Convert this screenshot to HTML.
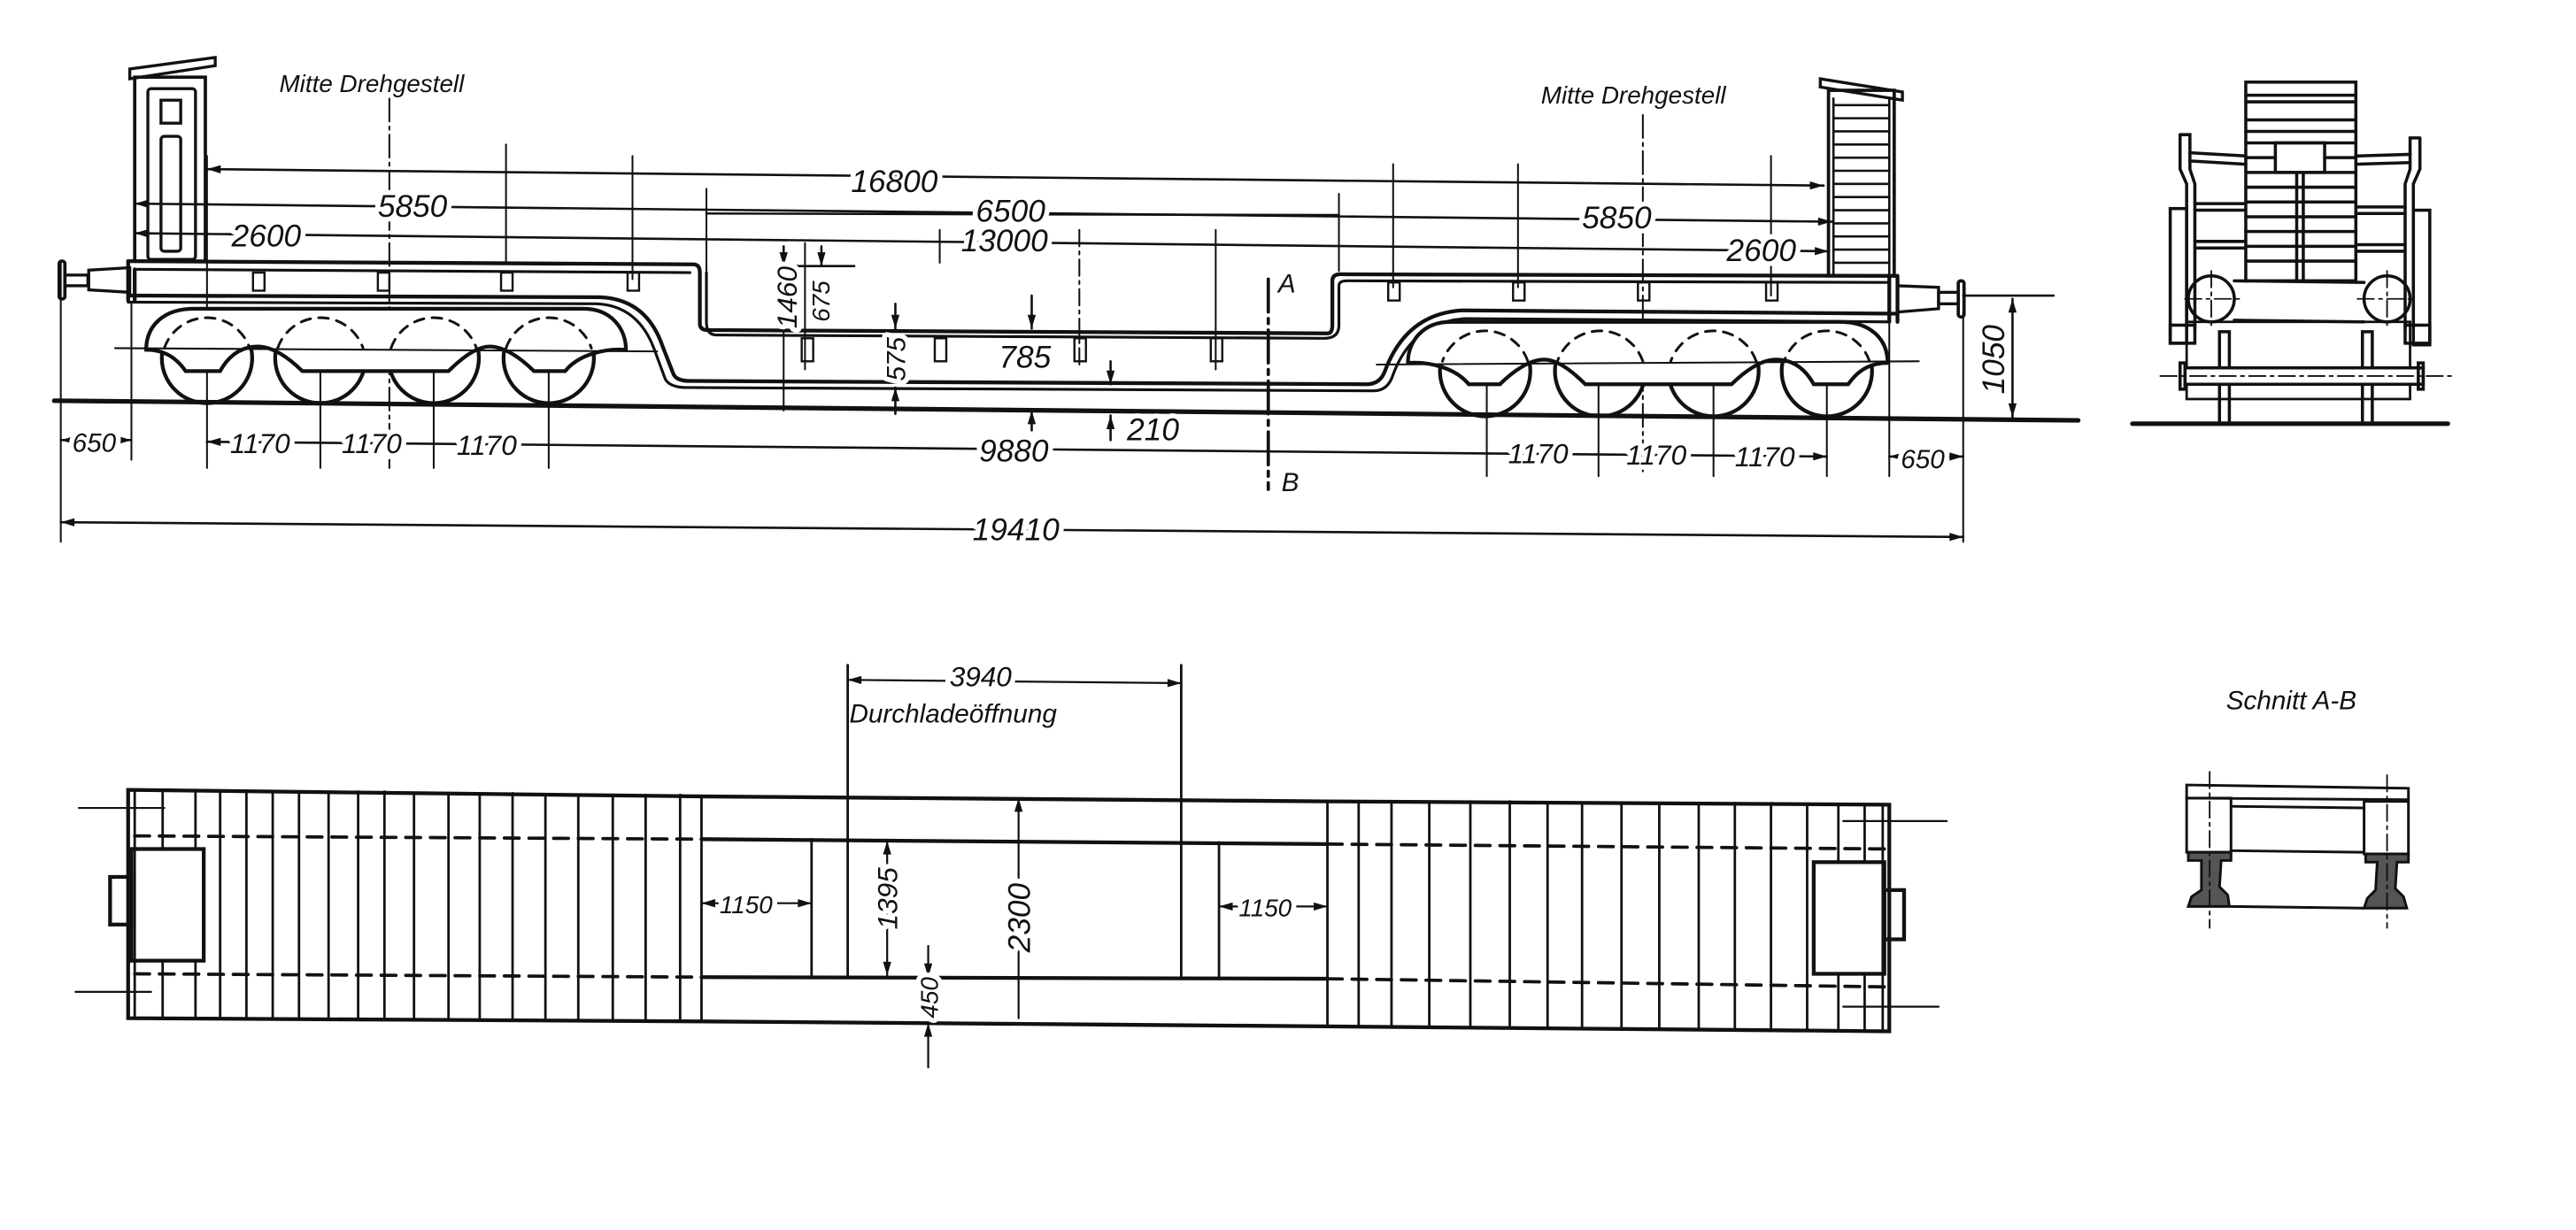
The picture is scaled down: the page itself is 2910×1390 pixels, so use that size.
<!DOCTYPE html>
<html><head><meta charset="utf-8"><style>
html,body{margin:0;padding:0;background:#fff;}
svg{display:block;}
text{font-family:"Liberation Sans",sans-serif;font-style:italic;fill:#111;}
.t{font-size:19px;stroke:#fff;stroke-width:6px;paint-order:stroke;stroke-linejoin:round;}
.s{font-size:15px;}
</style></head><body>
<svg width="2910" height="1390" viewBox="0 0 1568 749" preserveAspectRatio="none" xmlns="http://www.w3.org/2000/svg">
<defs>
<marker id="a" viewBox="0 0 10 6" refX="10" refY="3" markerWidth="10" markerHeight="5" orient="auto-start-reverse" markerUnits="userSpaceOnUse"><path d="M0,0 L10,3 L0,6 Z" fill="#111"/></marker>
</defs>
<rect width="1568" height="749" fill="#fff"/>
<g fill="none" stroke="#111" stroke-width="1.2" stroke-linecap="round">
<g stroke-width="1.1">
<line x1="37" y1="160" x2="37" y2="330"/>
<line x1="80" y1="185" x2="80" y2="280"/>
<line x1="126" y1="95" x2="126" y2="285"/>
<line x1="195" y1="200" x2="195" y2="285"/>
<line x1="237" y1="60" x2="237" y2="285" stroke-dasharray="14 3 2 3"/>
<line x1="264" y1="200" x2="264" y2="285"/>
<line x1="308" y1="88" x2="308" y2="160"/>
<line x1="334" y1="200" x2="334" y2="285"/>
<line x1="385" y1="95" x2="385" y2="170"/>
<line x1="430" y1="115" x2="430" y2="165"/>
<line x1="477" y1="150" x2="477" y2="250"/>
<line x1="490" y1="148" x2="490" y2="225"/>
<line x1="572" y1="140" x2="572" y2="160"/>
<line x1="657" y1="140" x2="657" y2="225" stroke-dasharray="10 3 2 3"/>
<line x1="740" y1="140" x2="740" y2="225"/>
<line x1="815" y1="118" x2="815" y2="165"/>
<line x1="848" y1="100" x2="848" y2="175"/>
<line x1="905" y1="200" x2="905" y2="290"/>
<line x1="924" y1="100" x2="924" y2="175"/>
<line x1="973" y1="200" x2="973" y2="290"/>
<line x1="1000" y1="70" x2="1000" y2="290" stroke-dasharray="14 3 2 3"/>
<line x1="1043" y1="200" x2="1043" y2="290"/>
<line x1="1078" y1="95" x2="1078" y2="180"/>
<line x1="1112" y1="200" x2="1112" y2="290"/>
<line x1="1150" y1="195" x2="1150" y2="290"/>
<line x1="1195" y1="190" x2="1195" y2="330"/>
</g>
<g stroke-width="1.4">
<line x1="126" y1="103" x2="1110" y2="113" marker-start="url(#a)" marker-end="url(#a)"/>
<line x1="82" y1="124" x2="1115" y2="135" marker-start="url(#a)" marker-end="url(#a)"/>
<line x1="82" y1="142" x2="1113" y2="153" marker-start="url(#a)" marker-end="url(#a)"/>
<line x1="430" y1="130" x2="815" y2="131"/>
<line x1="477" y1="162" x2="520" y2="162"/>
<line x1="37" y1="268" x2="80" y2="268" marker-start="url(#a)" marker-end="url(#a)"/>
<line x1="126" y1="269" x2="1112" y2="278" marker-start="url(#a)" marker-end="url(#a)"/>
<line x1="1150" y1="278" x2="1195" y2="278" marker-start="url(#a)" marker-end="url(#a)"/>
<line x1="37" y1="318" x2="1195" y2="327" marker-start="url(#a)" marker-end="url(#a)"/>
<line x1="1225" y1="182" x2="1225" y2="254" marker-start="url(#a)" marker-end="url(#a)"/>
<line x1="1195" y1="180" x2="1250" y2="180"/>
<line x1="477" y1="150" x2="477" y2="162" marker-end="url(#a)"/>
<line x1="500" y1="150" x2="500" y2="162" marker-end="url(#a)"/>
<line x1="545" y1="185" x2="545" y2="200" marker-end="url(#a)"/>
<line x1="545" y1="252" x2="545" y2="236" marker-end="url(#a)"/>
<line x1="628" y1="180" x2="628" y2="200" marker-end="url(#a)"/>
<line x1="628" y1="262" x2="628" y2="250" marker-end="url(#a)"/>
<line x1="676" y1="220" x2="676" y2="234" marker-end="url(#a)"/>
<line x1="676" y1="268" x2="676" y2="253" marker-end="url(#a)"/>
</g>
<line x1="772" y1="170" x2="772" y2="298" stroke-width="2" stroke-dasharray="20 4 3 4"/>
<line x1="33" y1="244" x2="1265" y2="256" stroke-width="2.8"/>
<rect x="82" y="47" width="43" height="112" stroke-width="2"/>
<path d="M79,42 L131,35 L131,40 L79,48 Z" stroke-width="1.8"/>
<rect x="90" y="54" width="29" height="104" rx="2" stroke-width="1.8"/>
<rect x="98" y="61" width="12" height="14" stroke-width="1.8"/>
<rect x="98" y="83" width="12" height="70" rx="2" stroke-width="1.8"/>
<rect x="1113" y="55" width="40" height="113" stroke-width="2"/>
<path d="M1108,48 L1158,56 L1158,61 L1108,53 Z" stroke-width="1.8"/>
<g stroke-width="1.4">
<line x1="1116" y1="64" x2="1150" y2="64"/><line x1="1116" y1="72" x2="1150" y2="72"/><line x1="1116" y1="80" x2="1150" y2="80"/><line x1="1116" y1="88" x2="1150" y2="88"/><line x1="1116" y1="96" x2="1150" y2="96"/><line x1="1116" y1="104" x2="1150" y2="104"/><line x1="1116" y1="112" x2="1150" y2="112"/><line x1="1116" y1="120" x2="1150" y2="120"/><line x1="1116" y1="128" x2="1150" y2="128"/><line x1="1116" y1="136" x2="1150" y2="136"/><line x1="1116" y1="144" x2="1150" y2="144"/><line x1="1116" y1="152" x2="1150" y2="152"/><line x1="1116" y1="160" x2="1150" y2="160"/>
<line x1="1116" y1="60" x2="1116" y2="168"/><line x1="1150" y1="60" x2="1150" y2="168"/>
</g>
<rect x="36" y="159" width="3.5" height="23" rx="1.5" stroke-width="2"/>
<rect x="39.5" y="167.5" width="14" height="6.5" stroke-width="1.8"/>
<path d="M54,164.5 L79,163 L79,178 L54,176.5 Z" stroke-width="1.8"/>
<path d="M1155,174 L1180,175 L1180,188 L1155,190 Z" stroke-width="1.8"/>
<rect x="1180" y="178" width="12" height="7" stroke-width="1.8"/>
<rect x="1192" y="171" width="3.5" height="22" rx="1.5" stroke-width="2"/>
<g stroke-width="2.3">
<path d="M78,159 L422,161 Q426,161 426,166 L426,197 Q426,201 431,201 L808,203 Q811,203 811,198 L811,171 Q811,167 816,167 L1155,168"/>
<path d="M82,164 L420,166 M430,166 L430,196 Q430,204 436,204 L806,206 Q815,206 815,198 L815,174 Q815,171 820,171 L1150,172" stroke-width="1.7"/>
<path d="M78,159 L78,183 M82,164 L82,183 M1150,168 L1150,196 M1155,168 L1155,196"/>
<path d="M78,180 L365,181 Q393,182 403,210 L410,228 Q412,232 420,232 L832,234 Q840,234 843,226 Q856,191 890,189 L1155,191"/>
<path d="M78,184 L363,185 Q388,186 398,212 L405,231 Q408,236 418,236 L836,238 Q845,238 848,228 Q860,196 892,194 L1150,196" stroke-width="1.7"/>
</g>
<g stroke-width="1.3">
<rect x="154" y="166" width="7" height="11"/><rect x="230" y="166" width="7" height="11"/><rect x="305" y="166" width="7" height="11"/><rect x="382" y="166" width="7" height="11"/>
<rect x="488" y="206" width="7" height="14"/><rect x="569" y="206" width="7" height="14"/><rect x="654" y="206" width="7" height="14"/><rect x="737" y="206" width="7" height="14"/>
<rect x="845" y="172" width="7" height="11"/><rect x="921" y="172" width="7" height="11"/><rect x="997" y="172" width="7" height="11"/><rect x="1075" y="172" width="7" height="11"/>
</g>
<g id="bog">
<g stroke-width="2.3">
<circle cx="126" cy="218" r="27.5"/><circle cx="195" cy="218" r="27.5"/><circle cx="264" cy="218" r="27.5"/><circle cx="334" cy="218" r="27.5"/>
</g>
<path d="M89,213 C89,198 100,188 118,188 L355,188 C372,188 381,200 381,213 C368,212 352,216 344,226 L325,226 C317,218 307,211 298,211 C290,211 281,218 273,226 L184,226 C176,218 166,211 157,211 C148,211 140,215 134,226 L113,226 C106,216 98,213 89,213 Z" fill="#fff" stroke-width="2.3"/>
<g stroke-width="1.6" stroke-dasharray="6 5">
<path d="M100,212 A27.5,27.5 0 0 1 152,212"/><path d="M169,212 A27.5,27.5 0 0 1 221,212"/><path d="M238,212 A27.5,27.5 0 0 1 290,212"/><path d="M308,212 A27.5,27.5 0 0 1 360,212"/>
</g>
<line x1="70" y1="212" x2="400" y2="214" stroke-width="1.1"/>
</g>
<use href="#bog" transform="translate(1238,8) scale(-1,1)"/>
<g stroke-width="1.9">
<rect x="1367" y="50" width="67" height="121"/>
<line x1="1367" y1="58" x2="1434" y2="58"/><line x1="1367" y1="62" x2="1434" y2="62"/><line x1="1367" y1="73" x2="1434" y2="73"/><line x1="1367" y1="80" x2="1434" y2="80"/>
<rect x="1385" y="87" width="30" height="18"/>
<line x1="1367" y1="87" x2="1434" y2="87"/><line x1="1367" y1="96" x2="1385" y2="96"/><line x1="1415" y1="96" x2="1434" y2="96"/>
<line x1="1367" y1="105" x2="1434" y2="105"/>
<line x1="1398" y1="105" x2="1398" y2="171"/><line x1="1402" y1="105" x2="1402" y2="171"/>
<line x1="1367" y1="114" x2="1434" y2="114"/><line x1="1367" y1="123" x2="1434" y2="123"/><line x1="1367" y1="132" x2="1434" y2="132"/><line x1="1367" y1="141" x2="1434" y2="141"/><line x1="1367" y1="150" x2="1434" y2="150"/><line x1="1367" y1="159" x2="1434" y2="159"/>
<path d="M1327,82 L1333,82 L1333,103 L1336,112 L1336,200 M1327,82 L1327,103 L1331,112 L1331,200"/>
<path d="M1473,84 L1467,84 L1467,103 L1464,112 L1464,200 M1473,84 L1473,103 L1469,112 L1469,200"/>
<line x1="1333" y1="93" x2="1367" y2="95"/><line x1="1333" y1="98" x2="1367" y2="100"/>
<line x1="1434" y1="95" x2="1467" y2="94"/><line x1="1434" y1="100" x2="1467" y2="99"/>
<line x1="1336" y1="124" x2="1367" y2="124"/><line x1="1336" y1="128" x2="1367" y2="128"/>
<line x1="1434" y1="126" x2="1464" y2="126"/><line x1="1434" y1="130" x2="1464" y2="130"/>
<line x1="1336" y1="147" x2="1367" y2="147"/><line x1="1336" y1="151" x2="1367" y2="151"/>
<line x1="1434" y1="149" x2="1464" y2="149"/><line x1="1434" y1="153" x2="1464" y2="153"/>
<rect x="1321" y="127" width="10" height="82"/><rect x="1469" y="128" width="10" height="82"/>
<rect x="1321" y="198" width="15" height="11"/><rect x="1464" y="198" width="15" height="11"/>
<circle cx="1346" cy="182" r="14"/><circle cx="1453" cy="182" r="14"/>
<line x1="1360" y1="171" x2="1439" y2="172"/><line x1="1360" y1="195" x2="1439" y2="196"/>
<rect x="1331" y="196" width="136" height="47" stroke-width="1.5"/>
<rect x="1351" y="202" width="6" height="56"/><rect x="1438" y="202" width="6" height="56"/>
<rect x="1330" y="224" width="145" height="10" fill="#fff"/>
<rect x="1327" y="221" width="3" height="16"/><rect x="1472" y="221" width="3" height="16"/>
<line x1="1298" y1="258" x2="1490" y2="258" stroke-width="2.8"/>
</g>
<g stroke-width="1" stroke-dasharray="10 3 2 3">
<line x1="1330" y1="182" x2="1365" y2="182"/><line x1="1435" y1="182" x2="1470" y2="182"/>
<line x1="1346" y1="165" x2="1346" y2="200"/><line x1="1453" y1="165" x2="1453" y2="200"/>
<line x1="1315" y1="229" x2="1495" y2="229"/>
</g>
<g stroke-width="2.3">
<path d="M78,481 L430,485 L808,488 L1150,490 L1150,628 L808,625 L430,622 L78,620 Z"/>
<line x1="427" y1="511" x2="808" y2="514"/>
<line x1="427" y1="595" x2="808" y2="596"/>
<rect x="80" y="517" width="44" height="68"/>
<rect x="67" y="534" width="13" height="29"/>
<rect x="1104" y="525" width="43" height="68"/>
<rect x="1147" y="542" width="12" height="30"/>
</g>
<g stroke-width="1.5">
<line x1="82" y1="481" x2="82" y2="620"/>
<line x1="99" y1="481" x2="99" y2="517"/><line x1="99" y1="585" x2="99" y2="620"/>
<line x1="119" y1="481" x2="119" y2="517"/><line x1="119" y1="585" x2="119" y2="620"/>
<line x1="134" y1="482" x2="134" y2="620"/><line x1="150" y1="482" x2="150" y2="620"/><line x1="166" y1="482" x2="166" y2="620"/><line x1="182" y1="482" x2="182" y2="620"/><line x1="200" y1="482" x2="200" y2="620"/><line x1="218" y1="482" x2="218" y2="620"/><line x1="234" y1="482" x2="234" y2="620"/><line x1="252" y1="483" x2="252" y2="621"/><line x1="273" y1="483" x2="273" y2="621"/><line x1="292" y1="483" x2="292" y2="621"/><line x1="312" y1="483" x2="312" y2="621"/><line x1="332" y1="484" x2="332" y2="621"/><line x1="352" y1="484" x2="352" y2="621"/><line x1="373" y1="484" x2="373" y2="621"/><line x1="393" y1="484" x2="393" y2="622"/><line x1="414" y1="484" x2="414" y2="622"/><line x1="427" y1="485" x2="427" y2="622"/>
<line x1="494" y1="511" x2="494" y2="595"/><line x1="516" y1="405" x2="516" y2="595"/><line x1="719" y1="405" x2="719" y2="596"/><line x1="742" y1="513" x2="742" y2="596"/>
<line x1="808" y1="488" x2="808" y2="625"/><line x1="827" y1="488" x2="827" y2="625"/><line x1="847" y1="488" x2="847" y2="625"/><line x1="870" y1="488" x2="870" y2="625"/><line x1="895" y1="488" x2="895" y2="625"/><line x1="919" y1="488" x2="919" y2="625"/><line x1="942" y1="489" x2="942" y2="625"/><line x1="963" y1="489" x2="963" y2="626"/><line x1="987" y1="489" x2="987" y2="626"/><line x1="1010" y1="489" x2="1010" y2="626"/><line x1="1034" y1="489" x2="1034" y2="626"/><line x1="1056" y1="489" x2="1056" y2="626"/><line x1="1078" y1="489" x2="1078" y2="627"/><line x1="1100" y1="490" x2="1100" y2="627"/>
<line x1="1119" y1="490" x2="1119" y2="525"/><line x1="1119" y1="593" x2="1119" y2="627"/>
<line x1="1135" y1="490" x2="1135" y2="525"/><line x1="1135" y1="593" x2="1135" y2="627"/>
<line x1="1146" y1="490" x2="1146" y2="627"/>
</g>
<g stroke-width="2" stroke-dasharray="9 6">
<line x1="82" y1="509" x2="427" y2="511"/><line x1="82" y1="593" x2="427" y2="595"/>
<line x1="808" y1="514" x2="1150" y2="517"/><line x1="808" y1="596" x2="1150" y2="601"/>
</g>
<g stroke-width="1.2">
<line x1="48" y1="492" x2="100" y2="492"/><line x1="46" y1="604" x2="92" y2="604"/>
<line x1="1122" y1="500" x2="1185" y2="500"/><line x1="1122" y1="613" x2="1180" y2="613"/>
<line x1="516" y1="414" x2="719" y2="416" marker-start="url(#a)" marker-end="url(#a)"/>
<line x1="427" y1="550" x2="494" y2="550" marker-start="url(#a)" marker-end="url(#a)"/>
<line x1="742" y1="552" x2="808" y2="552" marker-start="url(#a)" marker-end="url(#a)"/>
<line x1="620" y1="620" x2="620" y2="486" marker-end="url(#a)"/>
<line x1="540" y1="512" x2="540" y2="594" marker-start="url(#a)" marker-end="url(#a)"/>
<line x1="565" y1="576" x2="565" y2="595" marker-end="url(#a)"/>
<line x1="565" y1="650" x2="565" y2="623" marker-end="url(#a)"/>
</g>
<g stroke-width="1.6">
<path d="M1331,478 L1466,480 L1466,487 L1331,486 Z"/>
<rect x="1331" y="486" width="27" height="33"/>
<rect x="1439" y="488" width="27" height="32"/>
<line x1="1358" y1="491" x2="1439" y2="492"/>
<line x1="1358" y1="518" x2="1439" y2="519"/>
<line x1="1358" y1="552" x2="1439" y2="553"/>
<path d="M1332,519 L1358,519 L1358,524 L1352,524 L1351,540 L1356,545 L1357,552 L1332,552 L1334,546 L1340,542 L1340,524 L1332,524 Z" fill="#555"/>
<path d="M1440,520 L1466,520 L1466,525 L1459,525 L1458,541 L1463,546 L1465,553 L1439,553 L1441,547 L1446,542 L1447,525 L1440,525 Z" fill="#555"/>
</g>
<g stroke-width="1" stroke-dasharray="10 3 2 3">
<line x1="1345" y1="470" x2="1345" y2="565"/><line x1="1453" y1="472" x2="1453" y2="565"/>
</g>
</g>
<text class="s" x="170" y="56">Mitte Drehgestell</text>
<text class="s" x="938" y="63">Mitte Drehgestell</text>
<text class="t" x="518" y="117">16800</text>
<text class="t" x="230" y="132">5850</text>
<text class="t" x="594" y="135">6500</text>
<text class="t" x="963" y="139">5850</text>
<text class="t" x="141" y="150">2600</text>
<text class="t" x="585" y="153">13000</text>
<text class="t" x="1051" y="159">2600</text>
<text class="t" x="608" y="224">785</text>
<text class="t" x="686" y="268">210</text>
<text class="t" x="596" y="281">9880</text>
<text class="t" x="44" y="275" style="font-size:16px">650</text>
<text class="t" x="140" y="276" style="font-size:17px">1170</text>
<text class="t" x="208" y="276" style="font-size:17px">1170</text>
<text class="t" x="278" y="277" style="font-size:17px">1170</text>
<text class="t" x="918" y="282" style="font-size:17px">1170</text>
<text class="t" x="990" y="283" style="font-size:17px">1170</text>
<text class="t" x="1056" y="284" style="font-size:17px">1170</text>
<text class="t" x="1157" y="285" style="font-size:16px">650</text>
<text class="t" x="592" y="329">19410</text>
<text x="778" y="178" style="font-size:16px">A</text>
<text x="780" y="299" style="font-size:16px">B</text>
<text class="t" transform="translate(485,200) rotate(-90)" style="font-size:17px">1460</text>
<text class="t" transform="translate(505,196) rotate(-90)" style="font-size:15px">675</text>
<text class="t" transform="translate(551,232) rotate(-90)" style="font-size:16px">575</text>
<text class="t" transform="translate(1220,240) rotate(-90)">1050</text>
<text class="t" x="578" y="418" style="font-size:17px">3940</text>
<text x="517" y="440" style="font-size:16px">Durchladeöffnung</text>
<text class="t" x="438" y="556" style="font-size:15px">1150</text>
<text class="t" x="754" y="558" style="font-size:15px">1150</text>
<text class="t" transform="translate(546,566) rotate(-90)" style="font-size:17px">1395</text>
<text class="t" transform="translate(627,580) rotate(-90)">2300</text>
<text class="t" transform="translate(571,620) rotate(-90)" style="font-size:15px">450</text>
<text x="1355" y="432" style="font-size:16px">Schnitt A-B</text>
</svg>
</body></html>
